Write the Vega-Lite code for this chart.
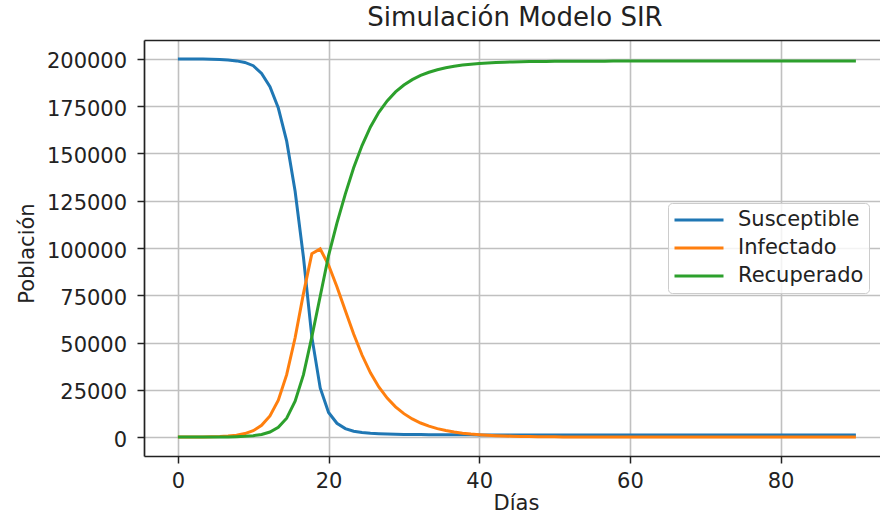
{
  "$schema": "https://vega.github.io/schema/vega-lite/v6.json",
  "width": 736,
  "height": 416,
  "autosize": "none",
  "padding": {"left": 144, "top": 40, "right": 0, "bottom": 59},
  "background": "white",
  "title": {"text": "Simulación Modelo SIR", "font": "DejaVu Sans", "fontSize": 26, "fontWeight": "normal", "color": "#222", "anchor": "middle", "frame": "group", "baseline": "alphabetic", "offset": 11, "dx": 3, "dy": 23},
  "data": {"values": [
    {"dia": 0, "Susceptible": 199990, "Infectado": 10, "Recuperado": 0},
    {"dia": 1.11, "Susceptible": 199978, "Infectado": 20, "Recuperado": 3},
    {"dia": 2.22, "Susceptible": 199955, "Infectado": 40, "Recuperado": 8},
    {"dia": 3.33, "Susceptible": 199912, "Infectado": 75, "Recuperado": 16},
    {"dia": 4.44, "Susceptible": 199830, "Infectado": 145, "Recuperado": 30},
    {"dia": 5.56, "Susceptible": 199680, "Infectado": 280, "Recuperado": 60},
    {"dia": 6.67, "Susceptible": 199410, "Infectado": 530, "Recuperado": 110},
    {"dia": 7.78, "Susceptible": 198950, "Infectado": 1000, "Recuperado": 210},
    {"dia": 8.89, "Susceptible": 198150, "Infectado": 1850, "Recuperado": 400},
    {"dia": 10, "Susceptible": 196400, "Infectado": 3400, "Recuperado": 750},
    {"dia": 11.11, "Susceptible": 192300, "Infectado": 6200, "Recuperado": 1400},
    {"dia": 12.22, "Susceptible": 185300, "Infectado": 11200, "Recuperado": 2700},
    {"dia": 13.33, "Susceptible": 174000, "Infectado": 19500, "Recuperado": 5200},
    {"dia": 14.44, "Susceptible": 156500, "Infectado": 33000, "Recuperado": 10000},
    {"dia": 15.56, "Susceptible": 130000, "Infectado": 52500, "Recuperado": 19000},
    {"dia": 16.67, "Susceptible": 95000, "Infectado": 76000, "Recuperado": 33000},
    {"dia": 17.78, "Susceptible": 53000, "Infectado": 97000, "Recuperado": 53000},
    {"dia": 18.89, "Susceptible": 26000, "Infectado": 99500, "Recuperado": 74500},
    {"dia": 20, "Susceptible": 13000, "Infectado": 91000, "Recuperado": 96000},
    {"dia": 21.11, "Susceptible": 7300, "Infectado": 79500, "Recuperado": 113200},
    {"dia": 22.22, "Susceptible": 4500, "Infectado": 67000, "Recuperado": 128500},
    {"dia": 23.33, "Susceptible": 3100, "Infectado": 54500, "Recuperado": 142400},
    {"dia": 24.44, "Susceptible": 2400, "Infectado": 43400, "Recuperado": 154200},
    {"dia": 25.56, "Susceptible": 2000, "Infectado": 34000, "Recuperado": 164000},
    {"dia": 26.67, "Susceptible": 1750, "Infectado": 26500, "Recuperado": 171750},
    {"dia": 27.78, "Susceptible": 1590, "Infectado": 20600, "Recuperado": 177810},
    {"dia": 28.89, "Susceptible": 1480, "Infectado": 16000, "Recuperado": 182520},
    {"dia": 30, "Susceptible": 1410, "Infectado": 12400, "Recuperado": 186190},
    {"dia": 31.11, "Susceptible": 1355, "Infectado": 9600, "Recuperado": 189045},
    {"dia": 32.22, "Susceptible": 1310, "Infectado": 7450, "Recuperado": 191240},
    {"dia": 33.33, "Susceptible": 1270, "Infectado": 5780, "Recuperado": 192950},
    {"dia": 34.44, "Susceptible": 1240, "Infectado": 4480, "Recuperado": 194280},
    {"dia": 35.56, "Susceptible": 1220, "Infectado": 3470, "Recuperado": 195310},
    {"dia": 36.67, "Susceptible": 1200, "Infectado": 2690, "Recuperado": 196110},
    {"dia": 37.78, "Susceptible": 1190, "Infectado": 2090, "Recuperado": 196720},
    {"dia": 38.89, "Susceptible": 1180, "Infectado": 1620, "Recuperado": 197200},
    {"dia": 40, "Susceptible": 1172, "Infectado": 1260, "Recuperado": 197568},
    {"dia": 41.11, "Susceptible": 1166, "Infectado": 975, "Recuperado": 197859},
    {"dia": 42.22, "Susceptible": 1162, "Infectado": 755, "Recuperado": 198083},
    {"dia": 43.33, "Susceptible": 1158, "Infectado": 585, "Recuperado": 198257},
    {"dia": 44.44, "Susceptible": 1155, "Infectado": 455, "Recuperado": 198390},
    {"dia": 45.56, "Susceptible": 1153, "Infectado": 352, "Recuperado": 198495},
    {"dia": 46.67, "Susceptible": 1152, "Infectado": 273, "Recuperado": 198575},
    {"dia": 47.78, "Susceptible": 1151, "Infectado": 212, "Recuperado": 198637},
    {"dia": 48.89, "Susceptible": 1150, "Infectado": 164, "Recuperado": 198686},
    {"dia": 50, "Susceptible": 1150, "Infectado": 127, "Recuperado": 198723},
    {"dia": 51.11, "Susceptible": 1150, "Infectado": 98, "Recuperado": 198752},
    {"dia": 52.22, "Susceptible": 1150, "Infectado": 76, "Recuperado": 198774},
    {"dia": 53.33, "Susceptible": 1150, "Infectado": 59, "Recuperado": 198791},
    {"dia": 54.44, "Susceptible": 1150, "Infectado": 46, "Recuperado": 198804},
    {"dia": 55.56, "Susceptible": 1150, "Infectado": 36, "Recuperado": 198814},
    {"dia": 56.67, "Susceptible": 1150, "Infectado": 28, "Recuperado": 198822},
    {"dia": 57.78, "Susceptible": 1150, "Infectado": 21, "Recuperado": 198829},
    {"dia": 58.89, "Susceptible": 1150, "Infectado": 17, "Recuperado": 198833},
    {"dia": 60, "Susceptible": 1150, "Infectado": 13, "Recuperado": 198837},
    {"dia": 61.11, "Susceptible": 1150, "Infectado": 10, "Recuperado": 198840},
    {"dia": 62.22, "Susceptible": 1150, "Infectado": 8, "Recuperado": 198842},
    {"dia": 63.33, "Susceptible": 1150, "Infectado": 6, "Recuperado": 198844},
    {"dia": 64.44, "Susceptible": 1150, "Infectado": 5, "Recuperado": 198845},
    {"dia": 65.56, "Susceptible": 1150, "Infectado": 4, "Recuperado": 198846},
    {"dia": 66.67, "Susceptible": 1150, "Infectado": 3, "Recuperado": 198847},
    {"dia": 67.78, "Susceptible": 1150, "Infectado": 2, "Recuperado": 198848},
    {"dia": 68.89, "Susceptible": 1150, "Infectado": 2, "Recuperado": 198848},
    {"dia": 70, "Susceptible": 1150, "Infectado": 1, "Recuperado": 198849},
    {"dia": 71.11, "Susceptible": 1150, "Infectado": 1, "Recuperado": 198849},
    {"dia": 72.22, "Susceptible": 1150, "Infectado": 1, "Recuperado": 198849},
    {"dia": 73.33, "Susceptible": 1150, "Infectado": 1, "Recuperado": 198849},
    {"dia": 74.44, "Susceptible": 1150, "Infectado": 1, "Recuperado": 198849},
    {"dia": 75.56, "Susceptible": 1150, "Infectado": 1, "Recuperado": 198849},
    {"dia": 76.67, "Susceptible": 1150, "Infectado": 1, "Recuperado": 198849},
    {"dia": 77.78, "Susceptible": 1150, "Infectado": 0, "Recuperado": 198850},
    {"dia": 78.89, "Susceptible": 1150, "Infectado": 0, "Recuperado": 198850},
    {"dia": 80, "Susceptible": 1150, "Infectado": 0, "Recuperado": 198850},
    {"dia": 81.11, "Susceptible": 1150, "Infectado": 0, "Recuperado": 198850},
    {"dia": 82.22, "Susceptible": 1150, "Infectado": 0, "Recuperado": 198850},
    {"dia": 83.33, "Susceptible": 1150, "Infectado": 0, "Recuperado": 198850},
    {"dia": 84.44, "Susceptible": 1150, "Infectado": 0, "Recuperado": 198850},
    {"dia": 85.56, "Susceptible": 1150, "Infectado": 0, "Recuperado": 198850},
    {"dia": 86.67, "Susceptible": 1150, "Infectado": 0, "Recuperado": 198850},
    {"dia": 87.78, "Susceptible": 1150, "Infectado": 0, "Recuperado": 198850},
    {"dia": 88.89, "Susceptible": 1150, "Infectado": 0, "Recuperado": 198850},
    {"dia": 90, "Susceptible": 1150, "Infectado": 0, "Recuperado": 198850}
  ]},
  "transform": [{"fold": ["Susceptible", "Infectado", "Recuperado"], "as": ["serie", "valor"]}],
  "config": {
    "font": "DejaVu Sans",
    "view": {"stroke": null},
    "axis": {
      "domainColor": "#222", "domainWidth": 1.7,
      "tickColor": "#222", "tickWidth": 1.5, "tickSize": 7,
      "labelFont": "DejaVu Sans", "labelFontSize": 21, "labelColor": "#222",
      "titleFont": "DejaVu Sans", "titleFontSize": 21, "titleFontWeight": "normal", "titleColor": "#222",
      "gridColor": "#c0c0c0", "gridWidth": 1.6
    }
  },
  "layer": [
    {
      "mark": {"type": "line", "strokeWidth": 3, "clip": true},
      "encoding": {
        "x": {"field": "dia", "type": "quantitative",
          "scale": {"domain": [-4.5, 93.2], "nice": false, "zero": false},
          "axis": {"values": [0, 20, 40, 60, 80], "format": "d", "labelPadding": 7.5, "labelFlush": false, "labelOverlap": false,
            "title": "Días", "titleX": 372, "titleY": 53, "titleBaseline": "alphabetic", "titleAlign": "center", "grid": true}},
        "y": {"field": "valor", "type": "quantitative",
          "scale": {"domain": [-10000, 210000], "nice": false, "zero": false},
          "axis": {"values": [0, 25000, 50000, 75000, 100000, 125000, 150000, 175000, 200000], "format": "d", "labelPadding": 10.4, "labelOffset": 3, "labelFlush": false, "labelOverlap": false,
            "title": "Población", "titleX": -111, "titleY": 213, "titleAngle": 270, "titleBaseline": "alphabetic", "titleAlign": "center", "grid": true}},
        "color": {"field": "serie", "type": "nominal",
          "scale": {"domain": ["Susceptible", "Infectado", "Recuperado"], "range": ["#1f77b4", "#ff7f0e", "#2ca02c"]},
          "legend": {"orient": "none", "legendX": 524, "legendY": 163, "title": null,
            "symbolType": "stroke", "symbolSize": 2401, "symbolStrokeWidth": 3,
            "labelFont": "DejaVu Sans", "labelFontSize": 21, "labelColor": "#222", "labelOffset": 13,
            "padding": 5, "clipHeight": 24, "rowPadding": 4,
            "fillColor": "rgba(255,255,255,0.8)", "strokeColor": "#cccccc", "cornerRadius": 4}}
      }
    },
    {
      "mark": {"type": "rule", "opacity": 0},
      "encoding": {
        "x": {"field": "dia", "type": "quantitative",
          "axis": {"orient": "top", "labels": false, "ticks": false, "grid": false, "domain": true, "title": null}}
      }
    }
  ],
  "resolve": {"axis": {"x": "independent"}}
}
